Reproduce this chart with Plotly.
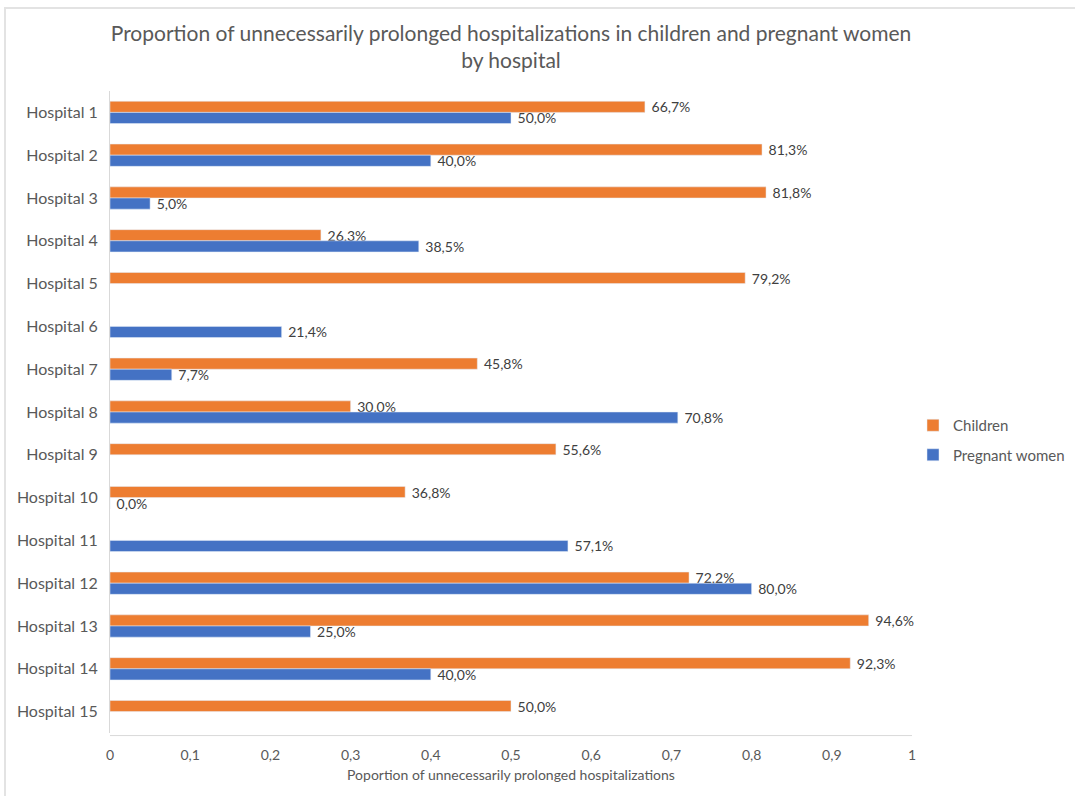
import plotly.graph_objects as go

# Data
hospitals = [f"Hospital {i}" for i in range(1, 16)]
children = [0.667, 0.813, 0.818, 0.263, 0.792, None, 0.458, 0.300, 0.556, 0.368,
            None, 0.722, 0.946, 0.923, 0.500]
pregnant = [0.500, 0.400, 0.050, 0.385, None, 0.214, 0.077, 0.708, None, 0.000,
            0.571, 0.800, 0.250, 0.400, None]
x_ticks = [0, 0.1, 0.2, 0.3, 0.4, 0.5, 0.6, 0.7, 0.8, 0.9, 1]

W, H = 1075, 796
ML, MR, MT, MB = 110, 163, 91, 63

FONT = "Lato, Calibri, sans-serif"
LABEL_COL = "#404040"
AXIS_COL = "#595959"

fig = go.Figure()
fig.add_trace(go.Bar(
    name="Children", y=hospitals, x=children, orientation="h",
    marker=dict(color="#ED7D31"),
    texttemplate=" %{x:.1%}", textposition="outside", cliponaxis=False,
    constraintext="none",
    textfont=dict(size=14, color=LABEL_COL, family=FONT),
    legendgroup="c",
))
fig.add_trace(go.Bar(
    name="Pregnant women", y=hospitals, x=pregnant, orientation="h",
    marker=dict(color="#4472C4"),
    texttemplate=" %{x:.1%}", textposition="outside", cliponaxis=False,
    constraintext="none",
    textfont=dict(size=14, color=LABEL_COL, family=FONT),
    legendgroup="p",
))

pw = W - ML - MR
ph = H - MT - MB


def px_x(p):
    return (p - ML) / pw


def px_y(p):
    return (H - MB - p) / ph


# light chart frame (top and left edges) plus the bottom axis line
shapes = [
    dict(type="line", xref="paper", yref="paper",
         x0=px_x(4), x1=px_x(1075), y0=px_y(8), y1=px_y(8),
         line=dict(color="#E3E3E3", width=2)),
    dict(type="line", xref="paper", yref="paper",
         x0=px_x(5), x1=px_x(5), y0=px_y(8), y1=px_y(796),
         line=dict(color="#E3E3E3", width=2)),
    dict(type="line", xref="paper", yref="paper", x0=0, x1=1, y0=-0.004, y1=-0.004,
         line=dict(color="#D9D9D9", width=1)),
]

fig.update_layout(
    width=W, height=H,
    margin=dict(l=ML, r=MR, t=MT, b=MB, autoexpand=False),
    paper_bgcolor="white", plot_bgcolor="white",
    separators=",.",
    barmode="group", bargap=0.48, bargroupgap=0.0,
    font=dict(family=FONT, color=AXIS_COL),
    title=dict(
        text="Proportion of unnecessarily prolonged hospitalizations in children and pregnant women<br>by hospital",
        x=0.5, xref="paper", xanchor="center", y=1 - 41 / H, yanchor="middle",
        font=dict(size=21, color=AXIS_COL, family=FONT),
    ),
    xaxis=dict(
        range=[0, 1], tickvals=x_ticks, showgrid=False, zeroline=False,
        showline=False, ticks="", tickfont=dict(size=14, color=AXIS_COL),
        ticklabelstandoff=12,
        title=dict(text="Poportion of unnecessarily prolonged hospitalizations",
                   font=dict(size=14, color=AXIS_COL), standoff=8),
    ),
    yaxis=dict(
        autorange="reversed", showgrid=False, showline=True,
        linecolor="#D9D9D9", linewidth=1, ticks="",
        tickfont=dict(size=16, color=AXIS_COL), ticklabelstandoff=8,
    ),
    legend=dict(
        x=px_x(913), xanchor="left", y=px_y(440), yanchor="middle",
        font=dict(size=15, color=AXIS_COL, family=FONT),
        itemwidth=30,
        traceorder="grouped", tracegroupgap=7,
        bgcolor="rgba(0,0,0,0)",
    ),
    shapes=shapes,
)

fig.write_html("out.html")
